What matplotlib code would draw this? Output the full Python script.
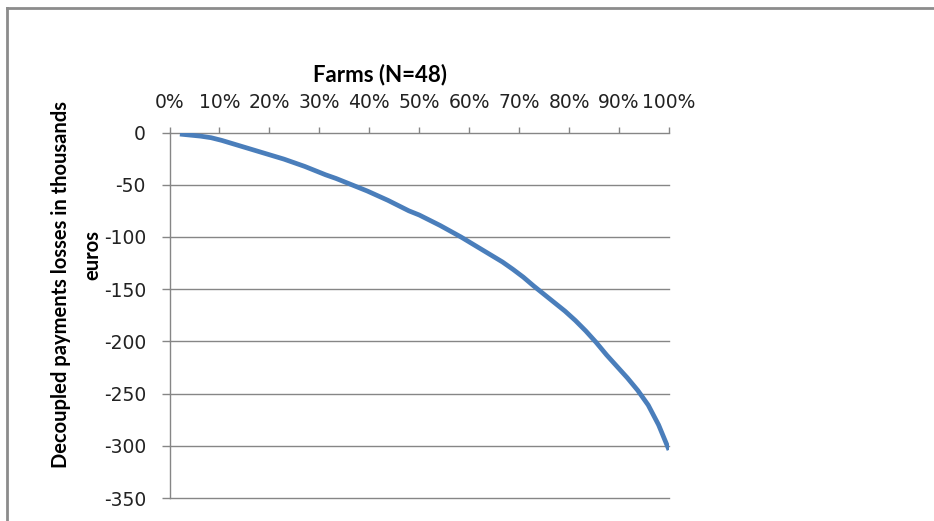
import matplotlib
matplotlib.use("Agg")
import matplotlib.pyplot as plt
from matplotlib.lines import Line2D

# ================================
# Data: decoupled payment losses per farm, sorted (N=48)
# ================================
farm_share = [k / 48 for k in range(1, 49)]
losses = [
    -1.5, -2.5, -3.5, -5, -7.5, -10.5, -13.5, -16.5,
    -19.5, -22.5, -25.5, -29, -32.5, -36.5, -40.5, -44,
    -48, -52, -56, -60.5, -65, -70, -75, -79,
    -84, -89, -94.5, -100, -106, -112, -118, -124,
    -131, -138.5, -147, -155, -163, -171, -180, -190,
    -201, -213, -224, -235, -247, -261, -280, -304,
]
x_ticks = [i / 10 for i in range(11)]
x_labels = [f"{i * 10}%" for i in range(11)]
y_ticks = list(range(0, -351, -50))

grid_col = "#868686"
line_col = "#4A7EBB"

# ================================
# Plot
# ================================
fig = plt.figure(figsize=(9.34, 5.21), dpi=100)
W, H = 934, 521
ax = fig.add_axes([169.5 / W, 1 - 498 / H, (669 - 169.5) / W, (498 - 132.5) / H])

ax.plot(farm_share, losses, color=line_col, lw=3.4, solid_capstyle="butt")

ax.set_xlim(0, 1)
ax.set_ylim(-350, 0)

# x axis sits on top (at zero), like the spreadsheet layout
ax.xaxis.tick_top()
ax.set_xticks(x_ticks)
ax.set_xticklabels(x_labels)
ax.set_yticks(y_ticks)
ax.set_yticklabels([str(v) for v in y_ticks])

ax.tick_params(axis="x", direction="out", length=4, width=1, color=grid_col,
               pad=11, labelsize=13.5)
ax.tick_params(axis="y", direction="out", length=6, width=1, color=grid_col,
               pad=11, labelsize=13.5)
for lab in ax.get_xticklabels() + ax.get_yticklabels():
    lab.set_color("#222222")
    lab.set_family("DejaVu Sans")

for y in y_ticks:
    ax.axhline(y, color=grid_col, lw=1, zorder=0, clip_on=False)

for side in ["top", "right", "bottom"]:
    ax.spines[side].set_visible(False)
ax.spines["left"].set_color(grid_col)
ax.spines["left"].set_linewidth(1)

# axis titles
fig.text(380 / W, 1 - 75 / H, "Farms (N=48)", ha="center", va="center",
         fontsize=16, fontweight="bold", family="Lato")
fig.text(61 / W, 1 - 285 / H, "Decoupled payments losses in thousands",
         ha="center", va="center", rotation=90, fontsize=14.5,
         fontweight="bold", family="Lato")
fig.text(92 / W, 1 - 255 / H, "euros", ha="center", va="center", rotation=90,
         fontsize=14.5, fontweight="bold", family="Lato")

# outer chart frame (left and top edges)
fig.add_artist(Line2D([7 / W, 7 / W], [0, 1 - 8 / H], transform=fig.transFigure,
                      color="#8C8C8C", lw=2))
fig.add_artist(Line2D([7 / W, 1], [1 - 8 / H, 1 - 8 / H], transform=fig.transFigure,
                      color="#8C8C8C", lw=2))

fig.savefig("out.png", dpi=100)
